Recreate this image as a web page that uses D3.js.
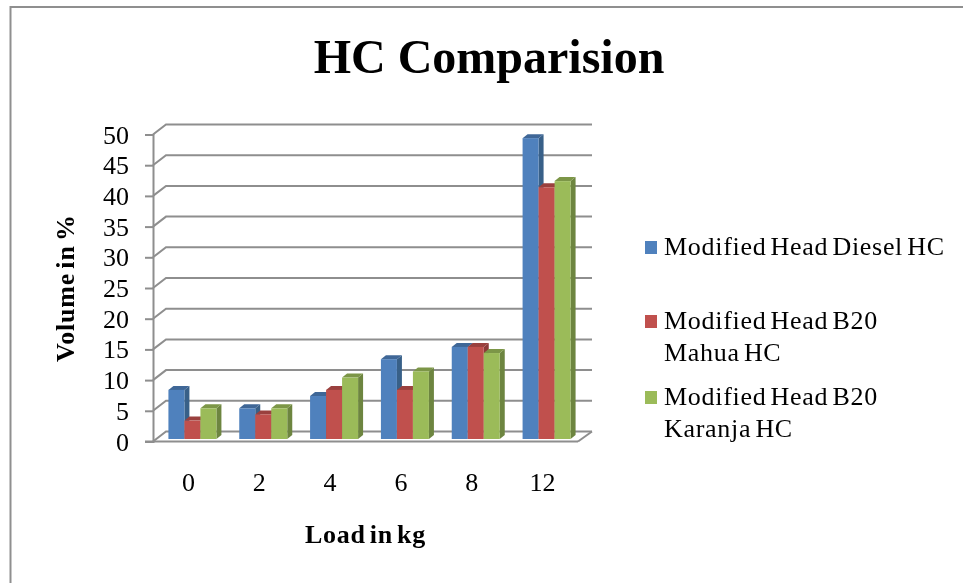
<!DOCTYPE html>
<html><head><meta charset="utf-8">
<script src="https://cdnjs.cloudflare.com/ajax/libs/d3/7.8.5/d3.min.js"></script>
<style>
html,body{margin:0;padding:0;background:#fff}
svg{display:block;font-family:"Liberation Serif",serif}
</style></head><body>
<svg id="c" width="963" height="583"></svg>
<script>
const categories = ["0","2","4","6","8","12"];
const legendLines = [["Modified Head Diesel HC"],["Modified Head B20","Mahua HC"],["Modified Head B20","Karanja HC"]];
const diesel = [8,5,7,13,15,49];
const mahua = [3,4,8,8,15,41];
const karanja = [5,5,10,11,14,42];
const yTicks = [0,5,10,15,20,25,30,35,40,45,50];
const faces = [["#4f81bd","#3f6797","#386088"],["#c0504d","#9a403e","#8c3a38"],["#9bbb59","#7c9647","#6d8540"]];

const seriesValues = [diesel,mahua,karanja];
const svg = d3.select("#c");
const root = svg.append("g").style("filter","blur(0.5px)");

root.append("path").attr("d","M10.5,583V7H963").attr("fill","none").attr("stroke","#8f8f8f").attr("stroke-width",2);

const pLeft=153,pRight=578,pTop=134.5,pBottom=441.5;
const wallDx=13,wallDy=-10;
const x = d3.scaleBand().domain(categories).range([pLeft,pRight]);
const y = d3.scaleLinear().domain([0,50]).range([pBottom,pTop]);
const grey="#8e8e8e";

const grid=root.append("g").attr("stroke",grey).attr("stroke-width",2).attr("fill","none");
yTicks.forEach(t=>{
  grid.append("path").attr("d",`M${pLeft},${y(t)}L${pLeft+wallDx},${y(t)+wallDy}H${pRight+wallDx+1}`);
});
grid.append("path").attr("d",`M${pRight},${pBottom}L${pRight+wallDx+1},${pBottom+wallDy}`);

const yAxis=d3.axisLeft(y).tickValues(yTicks).tickSize(8).tickPadding(16);
const gy=root.append("g").attr("transform",`translate(${pLeft},0)`).call(yAxis);
const xAxis=d3.axisBottom(x).tickSize(0).tickPadding(31);
const gx=root.append("g").attr("transform",`translate(0,${pBottom})`).call(xAxis);
[gy,gx].forEach(g=>{
  g.attr("font-family",null).attr("font-size",null);
  g.selectAll("path.domain").attr("stroke",grey).attr("stroke-width",2);
  g.selectAll("line").attr("stroke",grey).attr("stroke-width",2);
  g.selectAll("text").attr("fill","#000").style("font-size","26px");
});
gx.select("path.domain").attr("d",`M${pLeft-8},0H${pRight}`);
gy.selectAll("text").attr("dy","0.33em");

const barW=16, bx=5, by=-4, barShift=4;
const inner=d3.scaleBand().domain(d3.range(3)).range([0,barW*3]);
const base=y(0)-2.5;
const h=v=>y(0)-y(v);
const barsG=root.append("g");
categories.forEach((c,i)=>{
  const x0=x(c)+(x.bandwidth()-barW*3)/2+barShift;
  [0,1,2].forEach(s=>{
    const v=seriesValues[s][i], X=x0+inner(s), T=base-h(v), col=faces[s];
    const g=barsG.append("g");
    g.append("path").attr("fill",col[2]).attr("d",`M${X+barW},${T}l${bx},${by}V${base+by}l${-bx},${-by}Z`);
    g.append("path").attr("fill",col[1]).attr("d",`M${X},${T}l${bx},${by}h${barW}l${-bx},${-by}Z`);
    g.append("rect").attr("fill",col[0]).attr("x",X).attr("y",T).attr("width",barW).attr("height",h(v));
  });
});

root.append("text").attr("x",489).attr("y",72.5).attr("text-anchor","middle")
  .attr("font-weight","bold").attr("font-size",48).text("HC Comparision");
root.append("text").attr("transform","translate(74,362) rotate(-90)").attr("text-anchor","start")
  .attr("font-weight","bold").attr("font-size",26).attr("word-spacing","-3px").attr("letter-spacing","0.8px").text("Volume in %");
root.append("text").attr("x",305).attr("y",542.5).attr("text-anchor","start")
  .attr("font-weight","bold").attr("font-size",26).attr("word-spacing","-3px").attr("letter-spacing","0.7px").text("Load in kg");

const legendY=[255,329,405];
legendLines.forEach((lines,s)=>{
  const g=root.append("g");
  g.append("rect").attr("x",645).attr("y",legendY[s]-14).attr("width",12).attr("height",13).attr("fill",faces[s][0]);
  lines.forEach((t,k)=>g.append("text").attr("x",664).attr("y",legendY[s]+k*32).attr("font-size",26).attr("fill","#000").attr("word-spacing","-3px").attr("letter-spacing","0.7px").text(t));
});
</script>
</body></html>
